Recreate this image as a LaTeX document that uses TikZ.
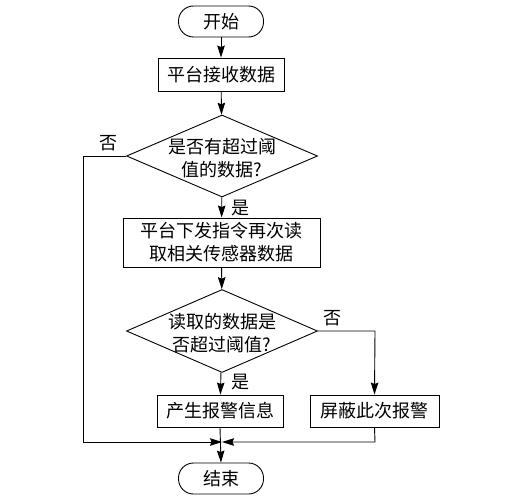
\documentclass[tikz,border=0pt]{standalone}
\usepackage{fontspec}
\newfontfamily\cjk{Noto Sans CJK SC}
\usetikzlibrary{shapes.geometric,arrows.meta}
\begin{document}
\begin{tikzpicture}[x=1pt,y=-1pt,
  every node/.style={font=\cjk\fontsize{18}{23}\selectfont},
  box/.style={draw,line width=0.9pt,inner sep=0pt,align=center},
  term/.style={box,rounded corners=15pt,minimum width=85pt,minimum height=31pt},
  proc/.style={box,minimum height=32pt},
  diam/.style={draw,line width=0.9pt,diamond,inner sep=0pt,minimum width=191pt,minimum height=82pt},
  txt/.style={align=center,inner sep=0pt},
  lab/.style={inner sep=0pt},
  arr/.style={line width=0.9pt,-{Stealth[length=12pt,width=7.5pt,inset=1.5pt]}},
  ln/.style={line width=0.9pt}]
\useasboundingbox (0,0) rectangle (518,500);
\node[term] (start) at (221,21.5) {开始};
\node[proc,minimum width=126pt,minimum height=33pt] (b1) at (221,74.5) {平台接收数据};
\node[diam] (d1) at (222,156) {};
\node[txt] (d1t) at (222,158) {是否有超过阈\\值的数据?};
\node[box,minimum width=197pt,minimum height=49pt] (b2) at (221.5,242.5) {平台下发指令再次读\\取相关传感器数据};
\node[diam,minimum height=83pt] (d2) at (222,331) {};
\node[txt] (d2t) at (222,333) {读取的数据是\\否超过阈值?};
\node[proc,minimum width=126pt] (b3) at (220,411) {产生报警信息};
\node[proc,minimum width=129pt] (b4) at (374.5,411) {屏蔽此次报警};
\node[term] (end) at (221,478.5) {结束};
\coordinate (m) at (222,442);
\coordinate (lc1) at (83,156);
\coordinate (lc2) at (83,442);
\coordinate (rc1) at (375,331);
\coordinate (rc2) at (375,442);
\draw[arr] (start) -- (b1);
\draw[arr] (b1) -- (d1);
\draw[arr] (d1) -- (b2);
\draw[arr] (b2) -- (d2);
\draw[arr] (d2) -- (b3);
\draw[arr] (d2.east) -- (rc1) -- (b4.north);
\draw[arr] (d1.west) -- (lc1) -- (lc2) -- (m);
\draw[arr] (b4.south) -- (rc2) -- (m);
\draw[arr] (b3.south) -- (end.north);
\node[lab] (y1) at (240,208) {是};
\node[lab] (y2) at (240,382) {是};
\node[lab] (n1) at (108,143) {否};
\node[lab] (n2) at (332,318) {否};
\end{tikzpicture}
\end{document}
